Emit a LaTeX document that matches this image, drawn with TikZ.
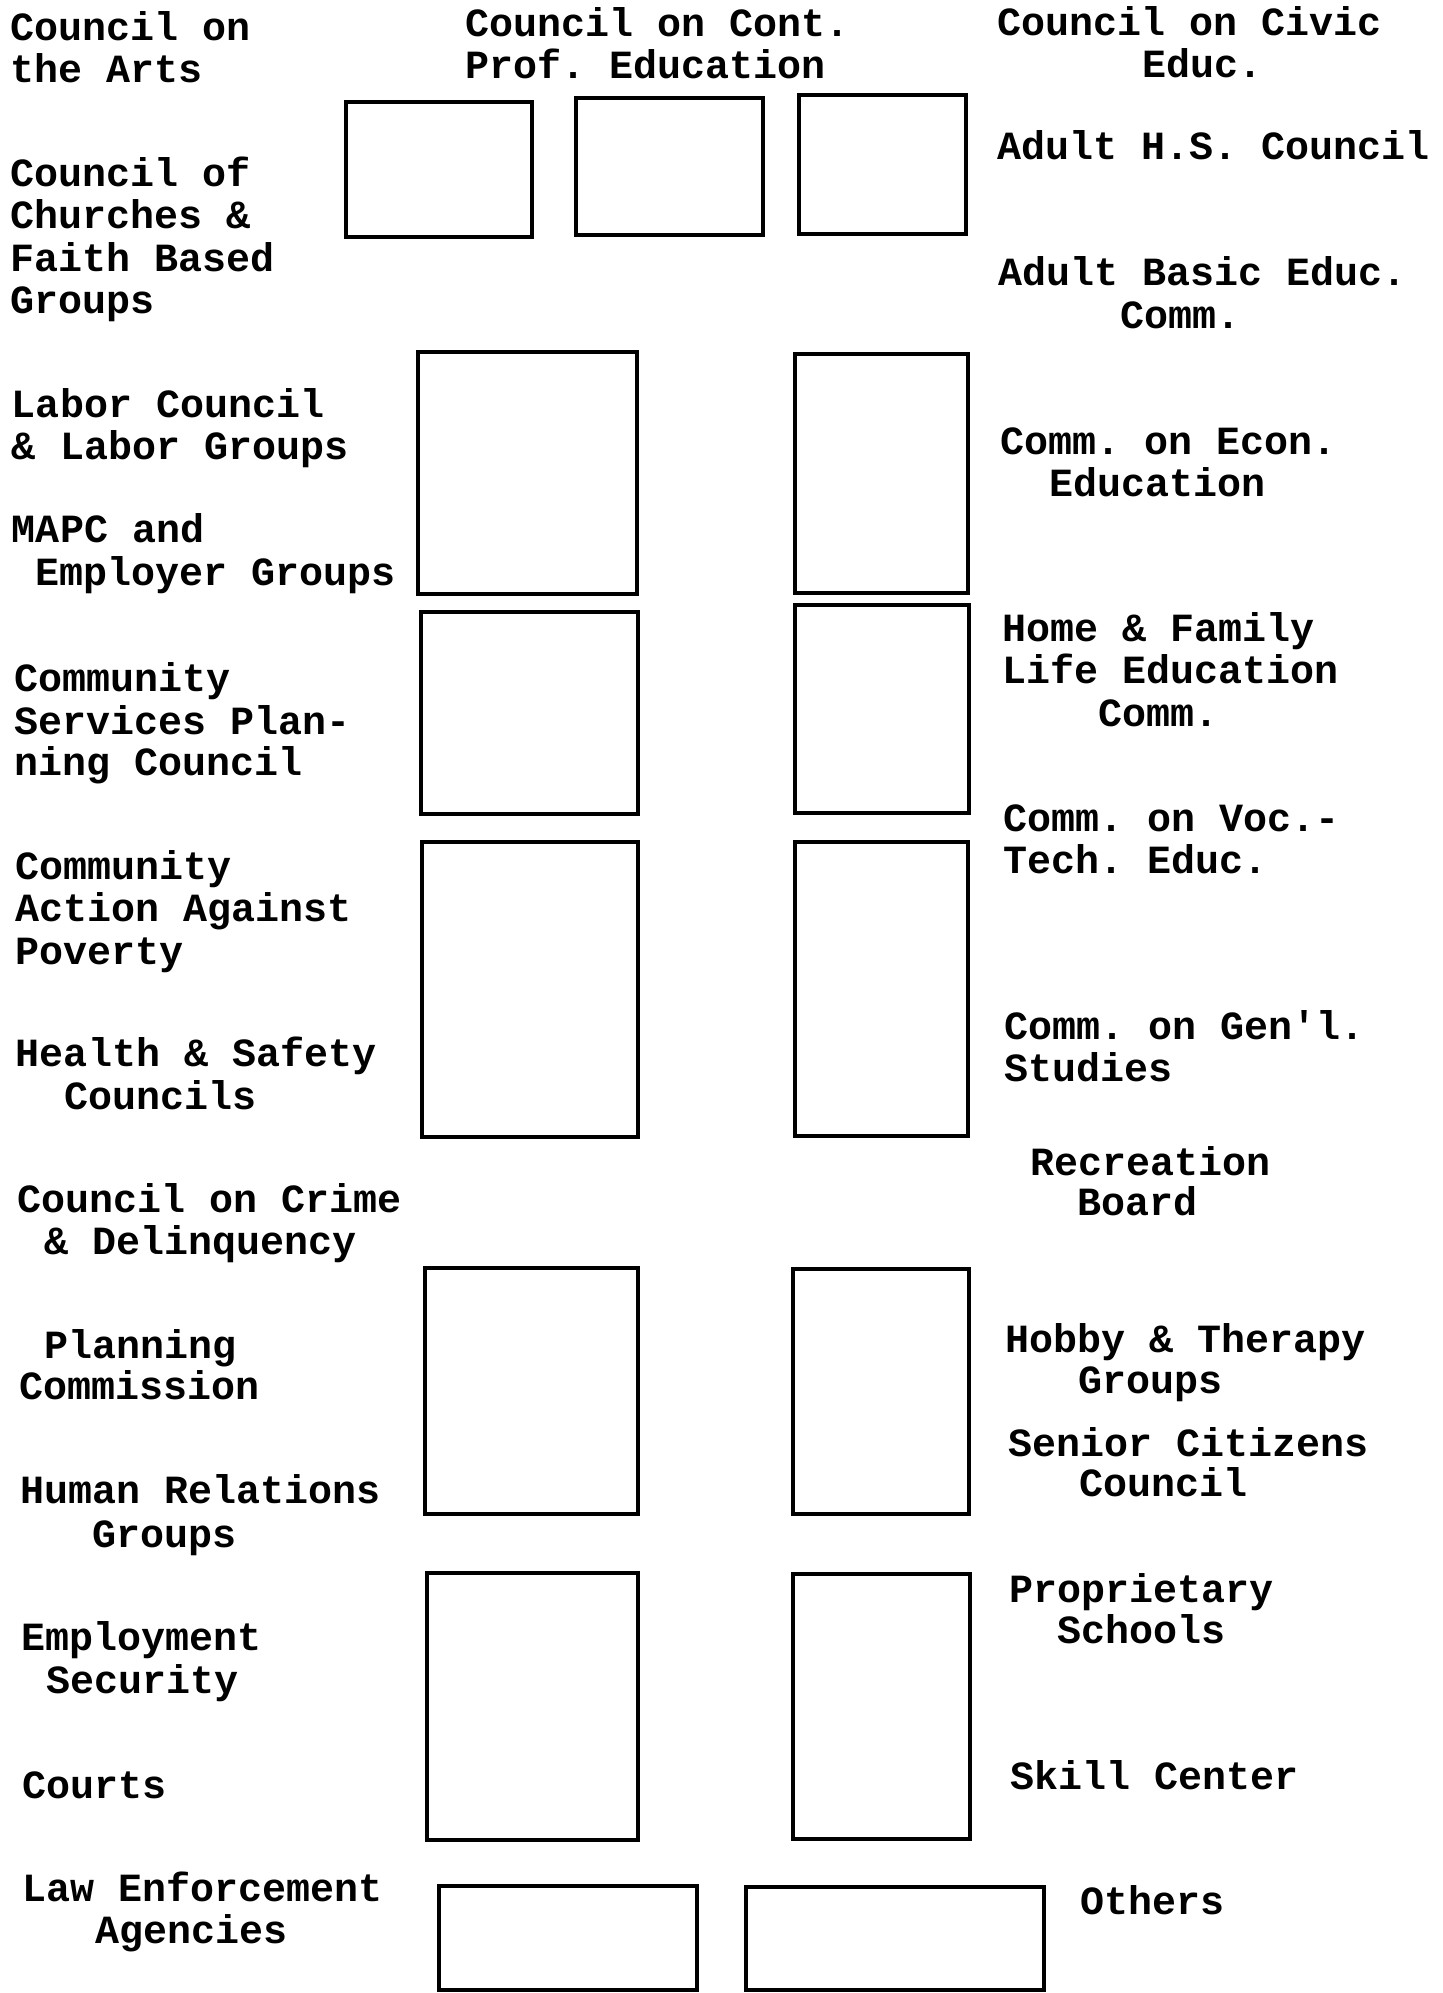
\documentclass[tikz,border=0pt]{standalone}
\usepackage{fontspec}
\setmonofont{Liberation Mono}
\begin{document}
\begin{tikzpicture}[x=1pt,y=-1pt,
  lbl/.style={anchor=base west, inner sep=0pt, outer sep=0pt,
    font=\ttfamily\bfseries\fontsize{40}{42}\selectfont},
  bxs/.style={draw, line width=3.2pt, inner sep=0pt, outer sep=0pt}]
\useasboundingbox (0,0) rectangle (1442,1993);
% ---------- boxes ----------
\node[bxs, minimum width=186pt, minimum height=135pt] (b1) at (439,169.5) {};
\node[bxs, minimum width=187pt, minimum height=137pt] (b2) at (669.5,166.5) {};
\node[bxs, minimum width=167pt, minimum height=139pt] (b3) at (882.5,164.5) {};
\node[bxs, minimum width=219pt, minimum height=242pt] (r2l) at (527.5,473) {};
\node[bxs, minimum width=173pt, minimum height=239pt] (r2r) at (881.5,473.5) {};
\node[bxs, minimum width=217pt, minimum height=202pt] (r3l) at (529.5,713) {};
\node[bxs, minimum width=174pt, minimum height=208pt] (r3r) at (882,709) {};
\node[bxs, minimum width=216pt, minimum height=295pt] (r4l) at (530,989.5) {};
\node[bxs, minimum width=173pt, minimum height=294pt] (r4r) at (881.5,989) {};
\node[bxs, minimum width=213pt, minimum height=246pt] (r5l) at (531.5,1391) {};
\node[bxs, minimum width=176pt, minimum height=245pt] (r5r) at (881,1391.5) {};
\node[bxs, minimum width=211pt, minimum height=267pt] (r6l) at (532.5,1706.5) {};
\node[bxs, minimum width=177pt, minimum height=265pt] (r6r) at (881.5,1706.5) {};
\node[bxs, minimum width=258pt, minimum height=104pt] (r7l) at (568,1938) {};
\node[bxs, minimum width=298pt, minimum height=103pt] (r7r) at (895,1938.5) {};
% ---------- left column ----------
\node[lbl] (l1a) at (10,41) {Council on};
\node[lbl] (l1b) at (10,83) {the Arts};
\node[lbl] (l2a) at (10,187) {Council of};
\node[lbl] (l2b) at (10,229) {Churches \&};
\node[lbl] (l2c) at (10,271) {Faith Based};
\node[lbl] (l2d) at (10,313) {Groups};
\node[lbl] (l3a) at (12,417) {Labor Council};
\node[lbl] (l3b) at (12,459) {\& Labor Groups};
\node[lbl] (l4a) at (12,542) {MAPC and};
\node[lbl] (l4b) at (35,585) {Employer Groups};
\node[lbl] (l5a) at (14,691) {Community};
\node[lbl] (l5b) at (14,734) {Services Plan-};
\node[lbl] (l5c) at (14,775) {ning Council};
\node[lbl] (l6a) at (15,879) {Community};
\node[lbl] (l6b) at (15,921) {Action Against};
\node[lbl] (l6c) at (15,964) {Poverty};
\node[lbl] (l7a) at (16,1066) {Health \& Safety};
\node[lbl] (l7b) at (64,1109) {Councils};
\node[lbl] (l8a) at (17,1212) {Council on Crime};
\node[lbl] (l8b) at (44,1254) {\& Delinquency};
\node[lbl] (l9a) at (44,1358) {Planning};
\node[lbl] (l9b) at (19,1399) {Commission};
\node[lbl] (l10a) at (20,1503) {Human Relations};
\node[lbl] (l10b) at (92,1547) {Groups};
\node[lbl] (l11a) at (21,1650) {Employment};
\node[lbl] (l11b) at (46,1693) {Security};
\node[lbl] (l12) at (22,1798) {Courts};
\node[lbl] (l13a) at (22,1901) {Law Enforcement};
\node[lbl] (l13b) at (95,1943) {Agencies};
% ---------- top middle ----------
\node[lbl] (t1a) at (465,37) {Council on Cont.};
\node[lbl] (t1b) at (465,79) {Prof. Education};
% ---------- right column ----------
\node[lbl] (c1a) at (997,36) {Council on Civic};
\node[lbl] (c1b) at (1142,78) {Educ.};
\node[lbl] (c2) at (997,160) {Adult H.S. Council};
\node[lbl] (c3a) at (998,285) {Adult Basic Educ.};
\node[lbl] (c3b) at (1120,328) {Comm.};
\node[lbl] (c4a) at (1000,454) {Comm. on Econ.};
\node[lbl] (c4b) at (1049,496) {Education};
\node[lbl] (c5a) at (1002,641) {Home \& Family};
\node[lbl] (c5b) at (1002,683) {Life Education};
\node[lbl] (c5c) at (1098,726) {Comm.};
\node[lbl] (c6a) at (1003,831) {Comm. on Voc.-};
\node[lbl] (c6b) at (1003,873) {Tech. Educ.};
\node[lbl] (c7a) at (1004,1039) {Comm. on Gen'l.};
\node[lbl] (c7b) at (1004,1081) {Studies};
\node[lbl, text depth=0pt] (c8a) at (1030,1175) {Recreation};
\node[lbl] (c8b) at (1077,1215) {Board};
\node[lbl] (c9a) at (1005,1352) {Hobby \& Therapy};
\node[lbl] (c9b) at (1078,1393) {Groups};
\node[lbl] (c10a) at (1008,1456) {Senior Citizens};
\node[lbl] (c10b) at (1079,1496) {Council};
\node[lbl] (c11a) at (1009,1602) {Proprietary};
\node[lbl] (c11b) at (1057,1643) {Schools};
\node[lbl] (c12) at (1010,1789) {Skill Center};
\node[lbl] (c13) at (1080,1914) {Others};
\end{tikzpicture}
\end{document}
